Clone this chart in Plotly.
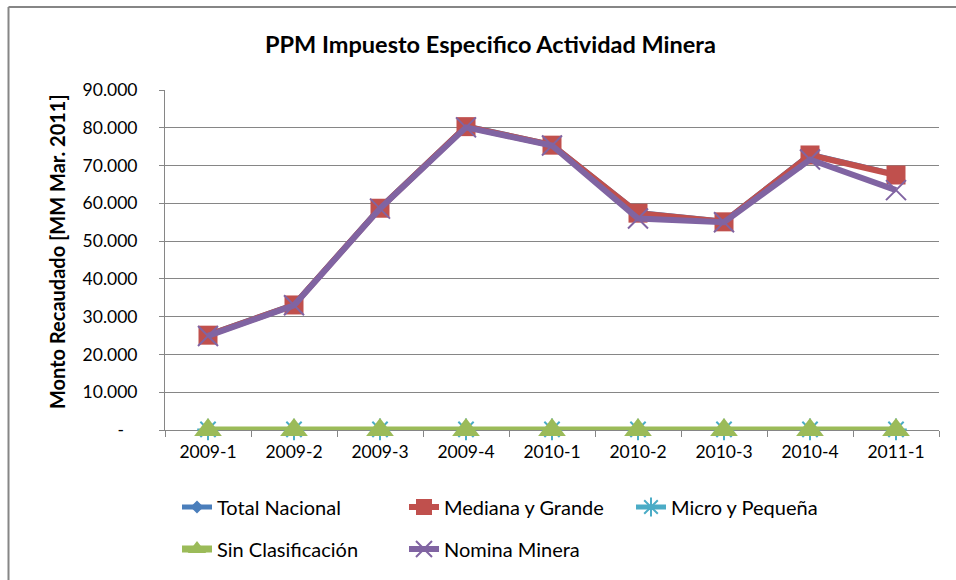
import plotly.graph_objects as go

categories = ["2009-1", "2009-2", "2009-3", "2009-4", "2010-1", "2010-2", "2010-3", "2010-4", "2011-1"]
mediana_grande = [25100, 33100, 58700, 80300, 75400, 57400, 55100, 72800, 67500]
micro_pequena = [150, 150, 160, 170, 160, 150, 150, 160, 160]
sin_clasificacion = [20, 20, 20, 20, 20, 20, 20, 20, 20]
total_nacional = [25270, 33270, 58880, 80490, 75580, 57570, 55270, 72980, 67680]
nomina_minera = [24900, 33000, 58600, 80100, 75300, 56000, 55000, 71600, 63500]
y_tickvals = [0, 10000, 20000, 30000, 40000, 50000, 60000, 70000, 80000, 90000]
y_ticktext = ["-\u00a0\u00a0\u00a0", "10.000", "20.000", "30.000", "40.000", "50.000",
              "60.000", "70.000", "80.000", "90.000"]

FONT = "Lato, 'Open Sans', sans-serif"
L, R, T, B = 165, 939, 90, 430
W, H = 956, 580


def px_x(px):
    return (px - L) / (R - L)


def px_y(py):
    return (B - py) / (B - T)


fig = go.Figure()
fig.add_trace(go.Scatter(x=categories, y=total_nacional, name="Total Nacional", mode="lines+markers",
                         line=dict(color="#4A7EBB", width=5), cliponaxis=False,
                         marker=dict(symbol="diamond", size=10, color="#4A7EBB"), legend="legend"))
fig.add_trace(go.Scatter(x=categories, y=mediana_grande, name="Mediana y Grande", mode="lines+markers",
                         line=dict(color="#C0504D", width=6), cliponaxis=False,
                         marker=dict(symbol="square", size=19, color="#C0504D"), legend="legend"))
fig.add_trace(go.Scatter(x=categories, y=micro_pequena, name="Micro y Pequeña", mode="lines+markers",
                         line=dict(color="#4BACC6", width=5), cliponaxis=False,
                         marker=dict(symbol="asterisk-open", size=18, color="#4BACC6",
                                     line=dict(color="#4BACC6", width=2)), legend="legend"))
fig.add_trace(go.Scatter(x=categories, y=sin_clasificacion, name="Sin Clasificación", mode="lines+markers",
                         line=dict(color="#9BBB59", width=7), cliponaxis=False,
                         marker=dict(symbol="triangle-up", size=24, color="#9BBB59"), legend="legend2"))
fig.add_trace(go.Scatter(x=categories, y=nomina_minera, name="Nomina Minera", mode="lines+markers",
                         line=dict(color="#8064A2", width=6), cliponaxis=False,
                         marker=dict(symbol="x-thin-open", size=20, color="#8064A2",
                                     line=dict(color="#8064A2", width=2)), legend="legend2"))

legend_common = dict(orientation="h", xanchor="left", yanchor="middle",
                     font=dict(family=FONT, size=20, color="#000000"),
                     entrywidth=182, entrywidthmode="pixels", bgcolor="rgba(0,0,0,0)",
                     itemclick=False, itemdoubleclick=False, traceorder="normal")

fig.update_layout(
    width=W, height=H,
    margin=dict(l=L, r=W - R, t=T, b=H - B, autoexpand=False),
    paper_bgcolor="white", plot_bgcolor="white",
    font=dict(family=FONT, size=17, color="#000000"),
    showlegend=True,
    legend=dict(x=px_x(177), y=px_y(507), **legend_common),
    legend2=dict(x=px_x(177), y=px_y(549), **legend_common),
    xaxis=dict(type="category", range=[-0.5, len(categories) - 0.5], autorange=False,
               showgrid=False, showline=True, linecolor="#868686", linewidth=1,
               ticks="outside", tickson="boundaries", ticklen=6, tickcolor="#868686",
               ticklabelstandoff=6, automargin=False, layer="below traces",
               tickfont=dict(family=FONT, size=17.5, color="#000000"), fixedrange=True),
    yaxis=dict(range=[0, 90000], autorange=False, tickvals=y_tickvals, ticktext=y_ticktext,
               showgrid=True, gridcolor="#868686", gridwidth=1,
               showline=True, linecolor="#868686", linewidth=1,
               ticks="outside", ticklen=5, tickcolor="#868686",
               ticklabelstandoff=18, automargin=False, layer="below traces",
               tickfont=dict(family=FONT, size=17.5, color="#000000"),
               zeroline=False, fixedrange=True),
    annotations=[
        dict(text="<b>PPM Impuesto Especifico Actividad Minera</b>", x=px_x(490), y=px_y(44),
             xref="paper", yref="paper", showarrow=False, xanchor="center", yanchor="middle",
             font=dict(family=FONT, size=23.5, color="#000000")),
        dict(text="<b>Monto Recaudado [MM Mar. 2011]</b>", x=px_x(57), y=px_y(252),
             xref="paper", yref="paper", showarrow=False, xanchor="center", yanchor="middle",
             textangle=-90, font=dict(family=FONT, size=20, color="#000000")),
    ],
    shapes=[
        dict(type="line", xref="paper", yref="paper", x0=px_x(8.5), y0=px_y(7), x1=px_x(970), y1=px_y(7),
             line=dict(color="#868686", width=2)),
        dict(type="line", xref="paper", yref="paper", x0=px_x(8.5), y0=px_y(7), x1=px_x(8.5), y1=px_y(600),
             line=dict(color="#868686", width=2)),
    ],
)

fig.write_html("out.html", config={"displayModeBar": False},
               post_script="document.body.style.margin='0';document.body.style.overflow='hidden';")
